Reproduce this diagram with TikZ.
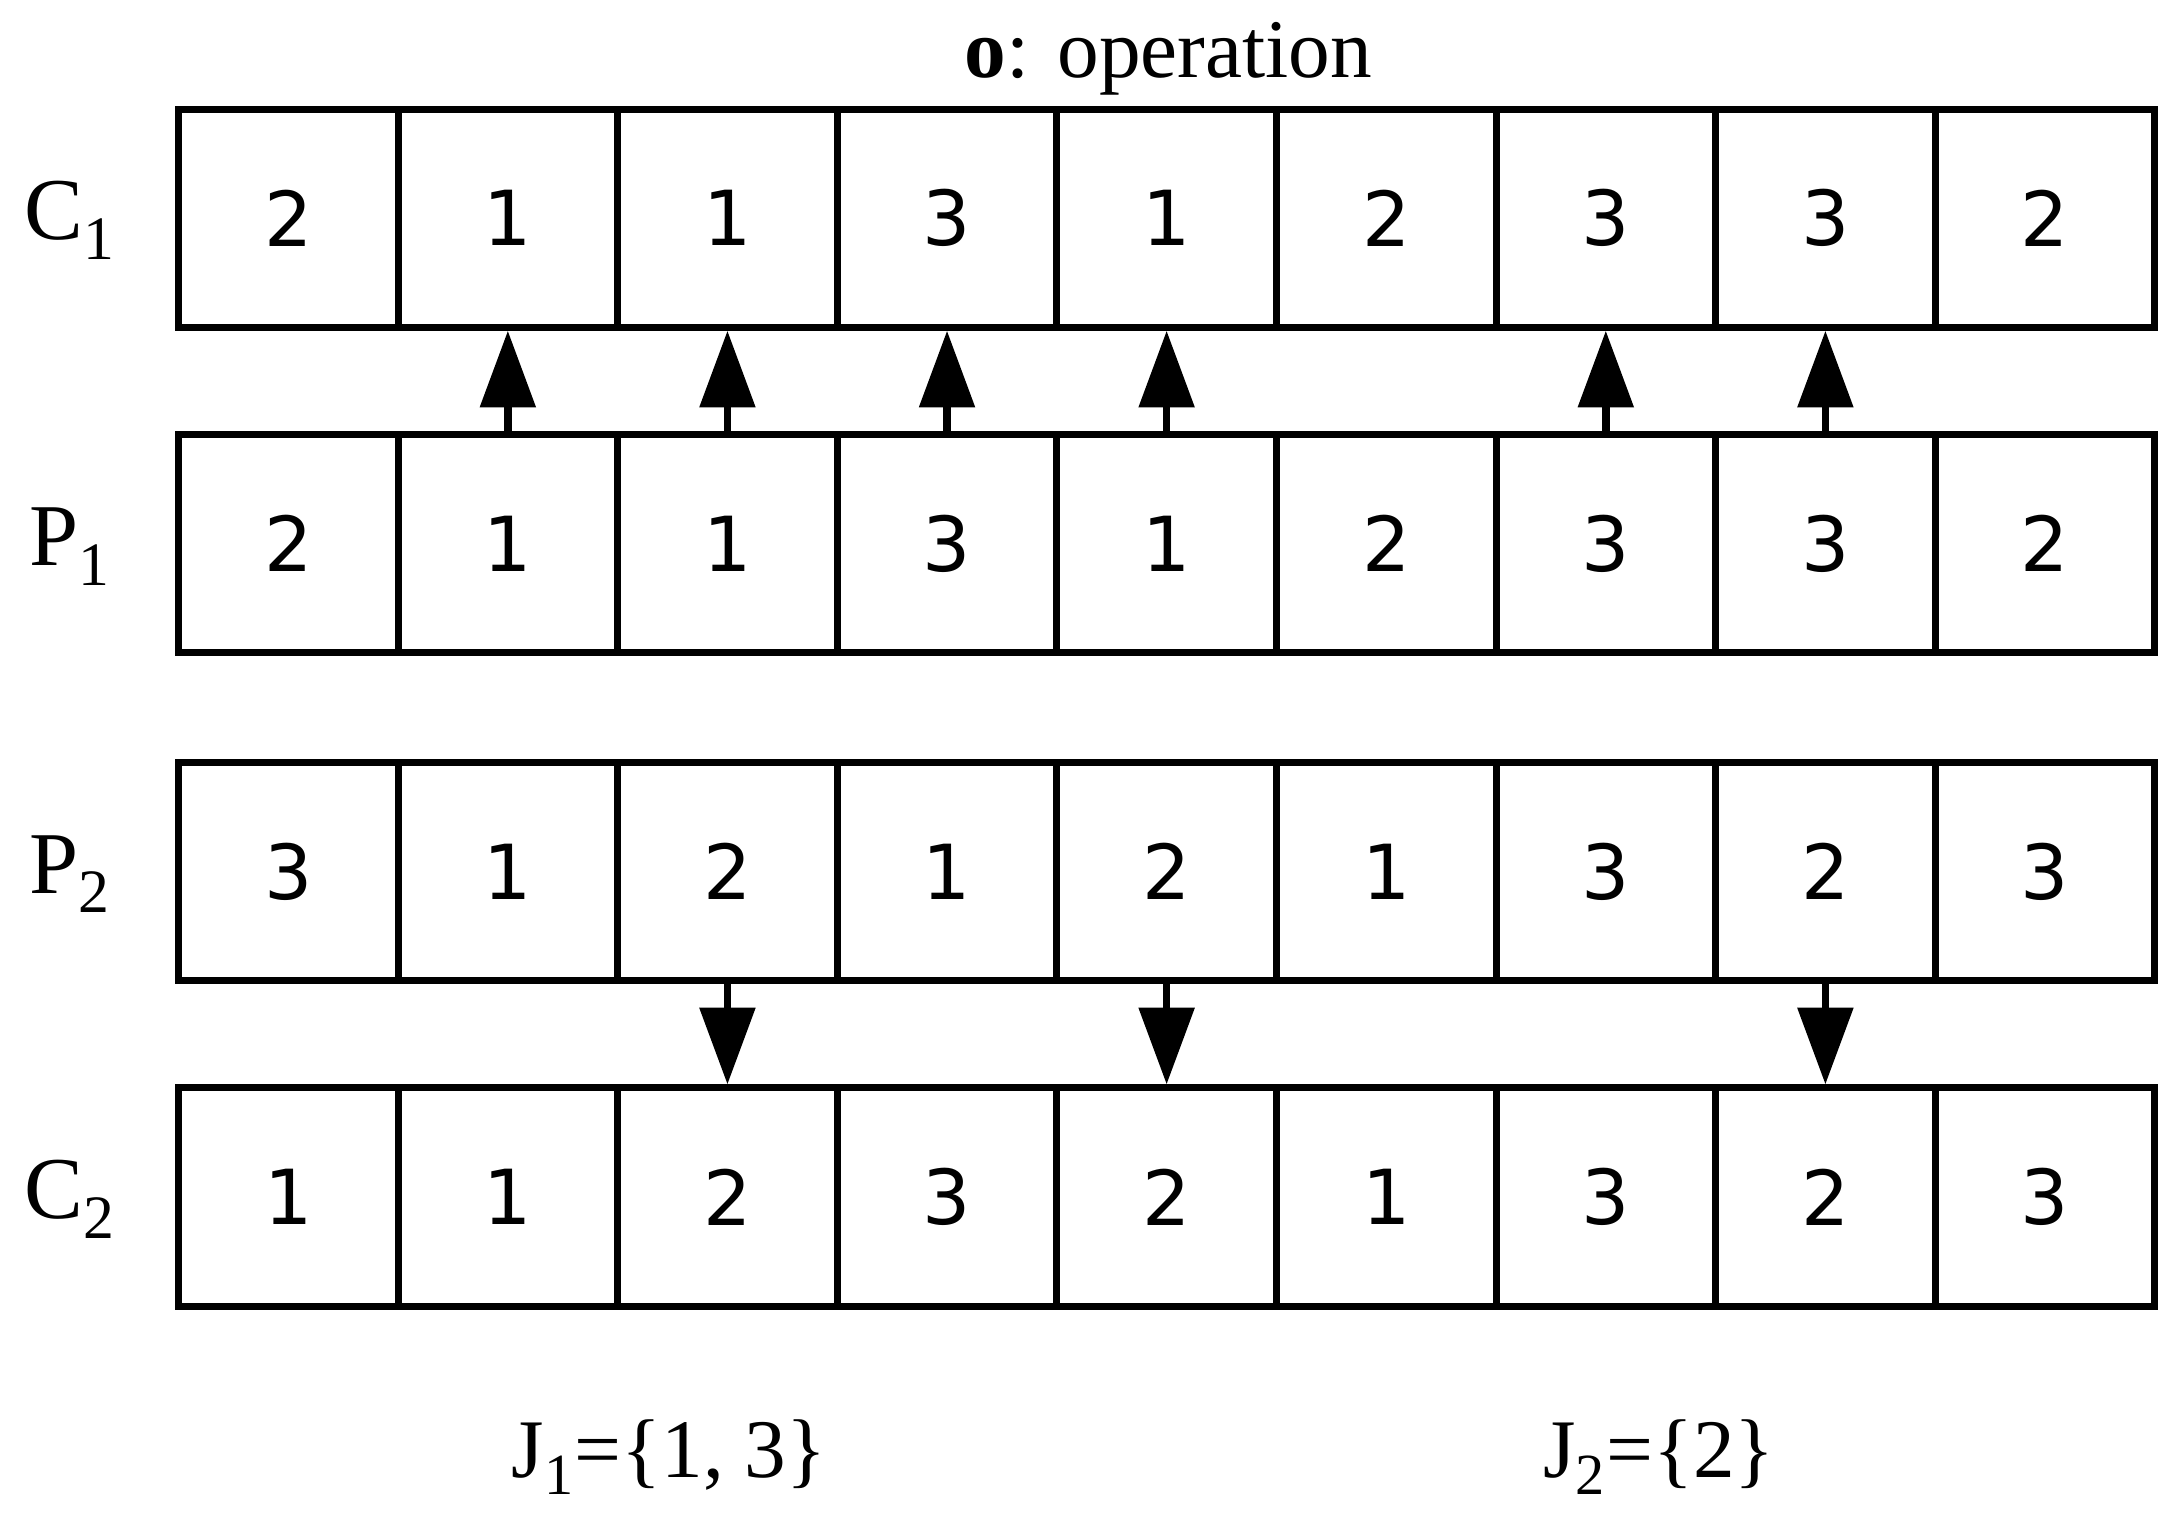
\documentclass[tikz,border=0pt]{standalone}
\usepackage{fontspec}
\setmainfont{Liberation Serif}
\newfontfamily\digitfont{DejaVu Sans}
\usetikzlibrary{arrows.meta}
\begin{document}
\begin{tikzpicture}[x=0.02cm,y=-0.02cm,
  cell/.style={draw,line width=0.1cm,minimum width=3.15cm,minimum height=3.13cm,inner sep=0,font=\digitfont\fontsize{31}{31}\selectfont},
  rowlab/.style={font=\fontsize{36}{36}\selectfont},
  arr/.style={line width=0.11cm,-{Triangle[length=1.1cm,width=0.78cm]}},
  lab/.style={font=\fontsize{34}{34}\selectfont}]
\useasboundingbox (0,0) rectangle (1560,1085);
\def\rowA{2,1,1,3,1,2,3,3,2}
\def\rowB{2,1,1,3,1,2,3,3,2}
\def\rowC{3,1,2,1,2,1,3,2,3}
\def\rowD{1,1,2,3,2,1,3,2,3}
\foreach \v [count=\i] in \rowA {\node[cell] (a\i) at ({128+78.75*(2*\i-1)},156.5) {\v};}
\foreach \v [count=\i] in \rowB {\node[cell] (b\i) at ({128+78.75*(2*\i-1)},390) {\v};}
\foreach \v [count=\i] in \rowC {\node[cell] (c\i) at ({128+78.75*(2*\i-1)},625) {\v};}
\foreach \v [count=\i] in \rowD {\node[cell] (d\i) at ({128+78.75*(2*\i-1)},858.5) {\v};}
\node[rowlab] (lc1) at (50,158) {C\textsubscript{1}};
\node[rowlab] (lp1) at (50,392) {P\textsubscript{1}};
\node[rowlab] (lp2) at (50,627) {P\textsubscript{2}};
\node[rowlab] (lc2) at (50,860) {C\textsubscript{2}};
\node[lab] (title) at (838,42) {\textbf{o}: operation};
\node[lab] (j1) at (480,1045) {J\textsubscript{1}=\{1, 3\}};
\node[lab] (j2) at (1190,1045) {J\textsubscript{2}=\{2\}};
\foreach \i in {2,3,4,5,7,8} {\draw[arr] (b\i.north) -- (a\i.south);}
\foreach \i in {3,5,8} {\draw[arr] (c\i.south) -- (d\i.north);}
\end{tikzpicture}
\end{document}
